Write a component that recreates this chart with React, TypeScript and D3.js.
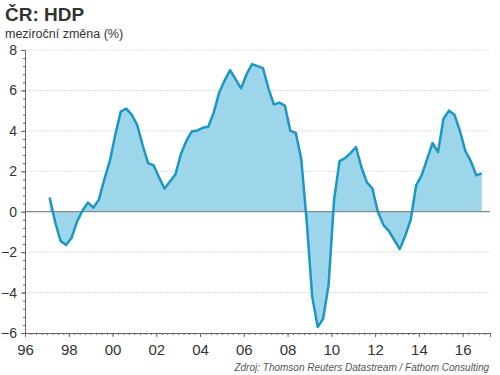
import * as d3 from 'd3'
import { useRef, useEffect } from 'react'

// quarterly y/y GDP change, 1997Q1 .. 2016Q4
const years = d3.range(1997, 2017)
const quarters = [1, 2, 3, 4]
const values = [
  0.7, -0.5, -1.45, -1.65,
  -1.3, -0.5, 0.05, 0.45,
  0.2, 0.6, 1.6, 2.5,
  3.8, 4.95, 5.1, 4.8,
  4.3, 3.3, 2.4, 2.3,
  1.7, 1.15, 1.5, 1.85,
  2.85, 3.5, 3.97, 4.02,
  4.15, 4.2, 4.9, 5.9,
  6.5, 7.0, 6.55, 6.1,
  6.8, 7.3, 7.2, 7.1,
  6.1, 5.3, 5.4, 5.25,
  4.0, 3.9, 2.6, -0.5,
  -4.2, -5.7, -5.3, -3.6,
  0.6, 2.5, 2.65, 2.9,
  3.2, 2.2, 1.45, 1.15,
  0.0, -0.65, -0.95, -1.4,
  -1.85, -1.2, -0.4, 1.3,
  1.8, 2.6, 3.4, 2.95,
  4.6, 5.0, 4.8, 4.0,
  3.0, 2.5, 1.8, 1.9,
]
const yTicks = [8, 6, 4, 2, 0, -2, -4, -6]
const xTickYears = d3.range(1996, 2017, 2)

const title = 'ČR: HDP'
const subtitle = 'meziroční změna (%)'
const source = 'Zdroj: Thomson Reuters Datastream / Fathom Consulting'

export default function App() {
  const svgRef = useRef<SVGSVGElement>(null)
  const width = 500
  const height = 375

  useEffect(() => {
    const svg = d3.select(svgRef.current)
    svg.selectAll('*').remove()

    const data = years.flatMap((y, i) =>
      quarters.map((q, j) => ({ t: y + (q - 1) / 4 + 0.125, v: values[i * 4 + j] }))
    )

    const left = 25, right = 490, top = 50, bottom = 333
    const x = d3.scaleLinear().domain([1996, 2017.25]).range([left, right])
    const y = d3.scaleLinear().domain([-6, 8]).range([bottom, top])

    const font = 'Liberation Sans, Arial, sans-serif'

    svg.append('text').text(title)
      .attr('x', 5).attr('y', 21)
      .attr('font-family', font).attr('font-weight', 'bold')
      .attr('font-size', 19).attr('fill', '#333')
    svg.append('text').text(subtitle)
      .attr('x', 5).attr('y', 38)
      .attr('font-family', font).attr('font-size', 12.5).attr('fill', '#333')

    // grid
    svg.append('g').selectAll('line')
      .data(yTicks.filter(d => d !== 0 && d !== -6))
      .join('line')
      .attr('x1', left).attr('x2', right)
      .attr('y1', d => y(d)).attr('y2', d => y(d))
      .attr('stroke', '#ddd').attr('stroke-dasharray', '2,1')

    // area + line
    svg.append('path').datum(data)
      .attr('d', d3.area<{ t: number; v: number }>()
        .x(d => x(d.t)).y0(y(0)).y1(d => y(d.v)))
      .attr('fill', '#9dd6eb')

    svg.append('line')
      .attr('x1', left).attr('x2', right)
      .attr('y1', y(0)).attr('y2', y(0))
      .attr('stroke', '#888').attr('stroke-width', 1.2)

    svg.append('path').datum(data)
      .attr('d', d3.line<{ t: number; v: number }>()
        .x(d => x(d.t)).y(d => y(d.v)))
      .attr('fill', 'none').attr('stroke', '#1b97c3')
      .attr('stroke-width', 2.5).attr('stroke-linejoin', 'round')

    // y axis
    const ya = svg.append('g').attr('transform', `translate(${left},0)`)
    ya.call(d3.axisLeft(y).tickValues(d3.range(-6, 8.01, 0.4)).tickSize(2).tickFormat(() => ''))
    ya.call(g => g.select('.domain').remove())
    ya.append('g').call(d3.axisLeft(y).tickValues(yTicks).tickSize(4).tickFormat(d3.format('d')))
    ya.selectAll('line').attr('stroke', '#666')
    ya.selectAll('.domain').attr('stroke', '#666')
    ya.selectAll('text').attr('font-family', font).attr('font-size', 14).attr('fill', '#333')
      .attr('dx', -1)

    // x axis
    const xa = svg.append('g').attr('transform', `translate(0,${bottom})`)
    xa.call(d3.axisBottom(x).tickValues(d3.range(1996, 2017.26, 0.25)).tickSize(2).tickFormat(() => ''))
    xa.call(g => g.select('.domain').remove())
    xa.append('g').call(d3.axisBottom(x).tickValues(xTickYears).tickSize(4)
      .tickFormat(d => String(Number(d) % 100).padStart(2, '0')))
    xa.selectAll('line').attr('stroke', '#666')
    xa.selectAll('.domain').attr('stroke', '#666')
    xa.selectAll('text').attr('font-family', font).attr('font-size', 15).attr('fill', '#333')
      .attr('dy', '1em')

    svg.append('text').text(source)
      .attr('x', 489).attr('y', 371).attr('text-anchor', 'end')
      .attr('font-family', font).attr('font-style', 'italic')
      .attr('font-size', 10).attr('fill', '#555')
  }, [])

  return (
    <svg ref={svgRef} width={width} height={height}
      style={{ position: 'absolute', left: 0, top: 0, background: '#fff' }} />
  )
}
